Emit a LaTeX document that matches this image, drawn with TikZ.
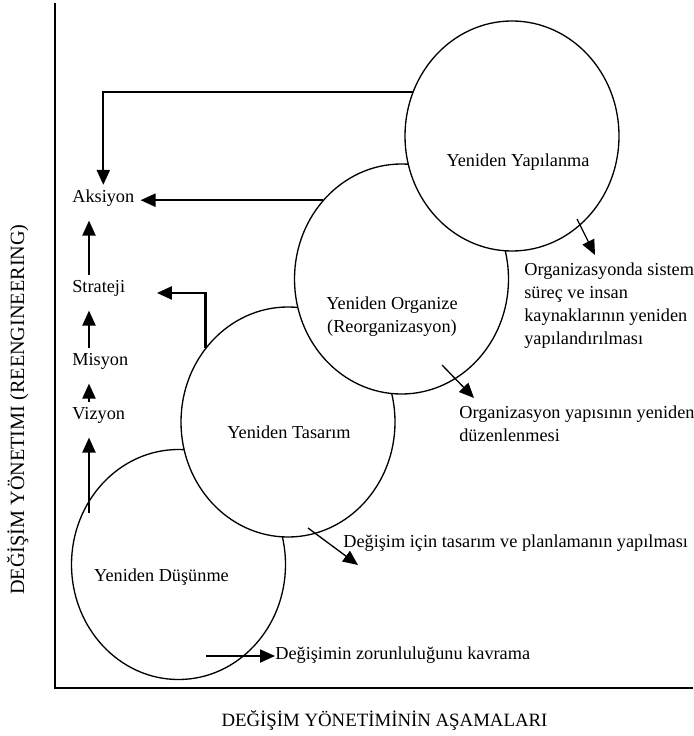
\documentclass[tikz,border=0pt]{standalone}
\usepackage{fontspec}
\setmainfont{Liberation Serif}
\usetikzlibrary{shapes.geometric,arrows.meta}

\begin{document}
\begin{tikzpicture}[x=0.2cm,y=0.2cm,
        stage/.style={ellipse,draw=black,fill=white,line width=0.75pt,minimum width=4.28cm,minimum height=4.6cm},
        txt/.style={font=\fontsize{10.4}{13.1}\selectfont,text height=1.5ex,text depth=.25ex},
        lbl/.style={txt,anchor=west,inner xsep=3.4pt,inner ysep=2.7pt},
        note/.style={font=\fontsize{10.4}{13.1}\selectfont,align=left,anchor=north west},
        flow/.style={line width=1.25pt,-{Triangle[width=7.4pt,length=8.5pt]}},
        upflow/.style={flow,line width=1.1pt,shorten >=6.5pt},
        pointer/.style={line width=0.75pt,-{Triangle[width=7.4pt,length=8.5pt]}},
        axisline/.style={line width=1.5pt}]
        \tikzstyle{every node}+=[inner sep=0pt]
        \useasboundingbox (0,0) rectangle (69.3,-73.6);
        \coordinate (ytop) at (5.5,-0.3);
        \coordinate (o) at (5.5,-68.8);
        \coordinate (xend) at (69.3,-68.8);
        \draw [axisline] (ytop) -- (o) -- (xend);
        \node [txt,rotate=90,font=\fontsize{11.5}{14}\selectfont] (ylab) at (1.9,-40.95) {DEĞİŞİM YÖNETIMI (REENGINEERING)};
        \node [txt,font=\fontsize{10.7}{13}\selectfont] (xlab) at (38.45,-72.1) {DEĞİŞİM YÖNETİMİNİN AŞAMALARI};
        \node [stage] (dus) at (17.85,-56.45) {};
        \node [stage] (tas) at (28.8,-42.2) {};
        \node [stage] (org) at (40.15,-27.9) {};
        \node [stage] (yap) at (51.2,-13.6) {};
        \node [txt] (dusT) at (16.15,-57.6) {Yeniden Düşünme};
        \node [txt] (tasT) at (28.9,-43.3) {Yeniden Tasarım};
        \node [font=\fontsize{10.4}{13.1}\selectfont,align=center] (orgT) at (39.2,-31.7) {Yeniden Organize\\(Reorganizasyon)};
        \node [txt] (yapT) at (51.8,-16.1) {Yeniden Yapılanma};
        \node [lbl] (aksiyon) at (6.6,-19.7) {Aksiyon};
        \node [lbl] (strateji) at (6.6,-28.7) {Strateji};
        \node [lbl] (misyon) at (6.6,-36.0) {Misyon};
        \node [lbl] (vizyon) at (6.6,-41.4) {Vizyon};
        \coordinate (col) at (8.9,0);
        \coordinate (vstart) at (8.9,-51.3);
        \draw [upflow] (vstart) -- (vizyon.south -| col);
        \draw [upflow] (vizyon.north -| col) -- (misyon.south -| col);
        \draw [upflow] (misyon.north -| col) -- (strateji.south -| col);
        \draw [upflow] (strateji.north -| col) -- (aksiyon.south -| col);
        \draw [flow] (yap.156) -| (aksiyon.north);
        \draw [flow] (org.135) -- (org.135 -| aksiyon.east);
        \draw [flow,shorten >=14.5pt] (tas.138) |- ([yshift=-3.4pt]strateji.east);
        \node [note] (yapnote) at (52.4,-26.25) {Organizasyonda sistem\\süreç ve insan\\kaynaklarının yeniden\\yapılandırılması};
        \node [note] (orgnote) at (45.9,-40.55) {Organizasyon yapısının yeniden\\düzenlenmesi};
        \node [txt,anchor=west] (tasnote) at (34.3,-54.2) {Değişim için tasarım ve planlamanın yapılması};
        \node [txt,anchor=west] (dusnote) at (27.5,-65.4) {Değişimin zorunluluğunu kavrama};
        \draw [pointer] ([shift={(6.5,-8.3)}]yap.center) -- ([shift={(7.1,0.75)}]yapnote.north west);
        \draw [pointer] ([shift={(4.05,-8.6)}]org.center) -- ([shift={(1.5,0.75)}]orgnote.north west);
        \draw [pointer] ([shift={(2.0,-10.6)}]tas.center) -- ([shift={(1.5,-2.3)}]tasnote.west);
        \draw [pointer,line width=1pt] ([shift={(2.75,-9.15)}]dus.center) coordinate (dstart) -- (dstart -| dusnote.west);
\end{tikzpicture}
\end{document}
